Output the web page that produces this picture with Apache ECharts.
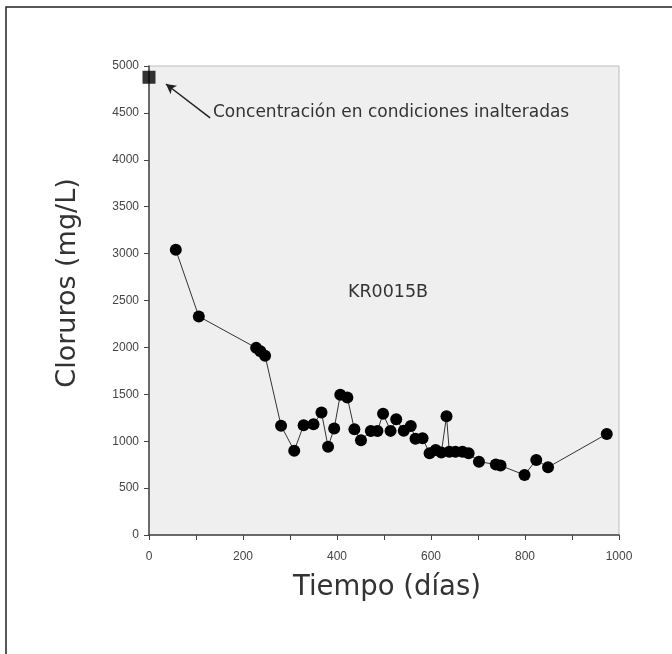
<!DOCTYPE html>
<html><head><meta charset="utf-8">
<script src="https://cdn.jsdelivr.net/npm/echarts@6/dist/echarts.min.js"></script>
<style>html,body{margin:0;padding:0;background:#fff}#c{width:672px;height:654px}</style>
</head><body><div id="c"></div>
<script>
const initialDays = [0];
const initialConc = [4880];
const days = [57,106,228,237,247,281,309,329,350,367,381,394,407,422,437,451,472,486,498,514,526,542,557,567,582,597,610,622,633,639,652,667,680,702,738,748,799,824,849,974];
const conc = [3040,2330,1995,1960,1911,1165,899,1170,1180,1305,941,1135,1495,1466,1127,1010,1109,1109,1293,1110,1233,1112,1162,1027,1031,871,906,880,1265,888,888,888,871,782,752,740,640,800,722,1077];
const xTickLabels = ['0','200','400','600','800','1000'];
const yTickLabels = ['0','500','1000','1500','2000','2500','3000','3500','4000','4500','5000'];
const arrowFrom = [130, 4446];
const arrowTo = [36, 4808];
const annotationText = 'Concentración en condiciones inalteradas';
const wellLabel = 'KR0015B';
const xTitle = 'Tiempo (días)';
const yTitle = 'Cloruros (mg/L)';

const chart = echarts.init(document.getElementById('c'));
const F = 'Liberation Sans';
const T = 'DejaVu Sans';
chart.setOption({
  animation: false,
  backgroundColor: '#fff',
  grid: {left:149, top:66, right:53, bottom:119, show:true, backgroundColor:'#efefef', borderColor:'#bdbdbd', borderWidth:1},
  xAxis: {type:'value', min:0, max:1000, interval:100,
    axisLine:{show:true, onZero:false, lineStyle:{color:'#444', width:1.5}},
    axisTick:{show:true, length:5, lineStyle:{color:'#444'}},
    splitLine:{show:false},
    axisLabel:{fontFamily:F, fontSize:12, color:'#444', margin:16,
      formatter: v => xTickLabels.includes(String(v)) ? String(v) : ''}},
  yAxis: {type:'value', min:0, max:5000, interval:500,
    axisLine:{show:true, onZero:false, lineStyle:{color:'#444', width:1.5}},
    axisTick:{show:true, length:5, lineStyle:{color:'#444'}},
    splitLine:{show:false},
    axisLabel:{fontFamily:F, fontSize:12, color:'#444', margin:10,
      formatter: v => yTickLabels.includes(String(v)) ? String(v) : ''}},
  series: [
    {type:'line', data: days.map((d,i)=>[d,conc[i]]), symbol:'circle', symbolSize:12,
     itemStyle:{color:'#000'}, lineStyle:{color:'#333', width:1}},
    {type:'scatter', clip:false, data: initialDays.map((d,i)=>[d,initialConc[i]]), symbol:'rect', symbolSize:13,
     itemStyle:{color:'#000'},
     markLine:{silent:true, symbol:['none','arrow'], symbolSize:[8,10],
       lineStyle:{color:'#222', width:1.5, type:'solid'}, label:{show:false},
       data:[[{coord:arrowFrom},{coord:arrowTo}]]}}
  ],
  graphic: [
    {type:'rect', shape:{x:6, y:7, width:720, height:720}, style:{fill:'none', stroke:'#222', lineWidth:1.5}, z:100},
    {type:'text', x:213, y:113, style:{text:annotationText, fontFamily:T, fontSize:17, fill:'#333', textVerticalAlign:'middle'}},
    {type:'text', x:388, y:292, style:{text:wellLabel, fontFamily:T, fontSize:17.5, fill:'#333', textAlign:'center', textVerticalAlign:'middle'}},
    {type:'text', x:387, y:588, style:{text:xTitle, fontFamily:T, fontSize:27.5, fill:'#333', textAlign:'center', textVerticalAlign:'middle'}},
    {type:'text', x:68, y:283, rotation:Math.PI/2, style:{text:yTitle, fontFamily:T, fontSize:27, fill:'#333', textAlign:'center', textVerticalAlign:'middle'}}
  ]
});
</script></body></html>
